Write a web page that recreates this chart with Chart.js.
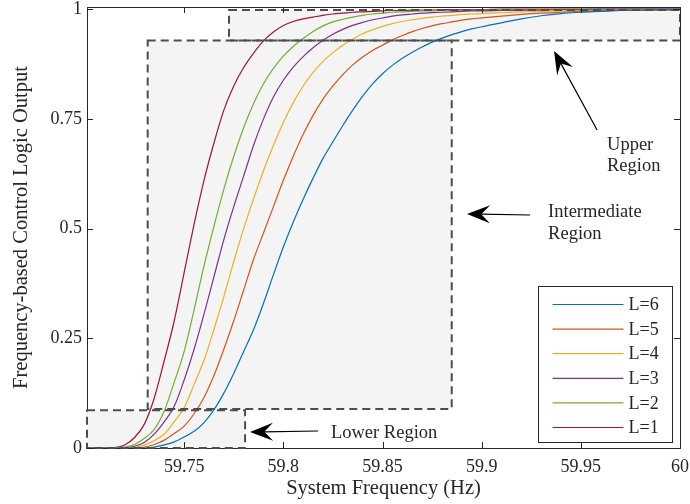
<!DOCTYPE html>
<html><head><meta charset="utf-8">
<script src="https://cdn.jsdelivr.net/npm/chart.js@4"></script>
<style>html,body{margin:0;padding:0;background:#fff;} canvas{display:block;}</style>
</head><body>
<canvas id="c" width="690" height="504"></canvas>
<script>
// ---------- data ----------
const freq = [59.700,59.705,59.710,59.715,59.720,59.725,59.730,59.735,59.740,59.745,
  59.750,59.755,59.760,59.765,59.770,59.775,59.780,59.785,59.790,59.795,
  59.800,59.805,59.810,59.815,59.820,59.825,59.830,59.835,59.840,59.845,
  59.850,59.855,59.860,59.865,59.870,59.875,59.880,59.885,59.890,59.895,
  59.900,59.910,59.920,59.930,59.940,59.950,59.960,59.970,59.980,59.990,60.000];

const L1 = [0,0,0,0.001,0.007,0.024,0.055,0.115,0.20,0.29,
  0.40,0.51,0.61,0.695,0.77,0.825,0.867,0.90,0.928,0.948,
  0.963,0.972,0.978,0.982,0.986,0.989,0.991,0.993,0.994,0.995,
  0.996,0.997,0.997,0.998,0.998,0.998,0.999,0.999,0.999,0.999,
  0.999,1,1,1,1,1,1,1,1,1,1];
const L2 = [0,0,0,0,0.002,0.008,0.022,0.043,0.085,0.15,
  0.22,0.315,0.415,0.505,0.59,0.665,0.73,0.785,0.83,0.865,
  0.893,0.915,0.933,0.949,0.962,0.971,0.977,0.982,0.986,0.989,
  0.991,0.993,0.994,0.995,0.996,0.996,0.997,0.997,0.998,0.998,
  0.998,0.999,0.999,0.999,1,1,1,1,1,1,1];
const L3 = [0,0,0,0,0,0.004,0.013,0.032,0.06,0.095,
  0.155,0.225,0.305,0.39,0.475,0.55,0.62,0.69,0.75,0.80,
  0.838,0.868,0.892,0.912,0.929,0.943,0.954,0.963,0.97,0.976,
  0.98,0.984,0.987,0.989,0.991,0.992,0.993,0.994,0.995,0.996,
  0.996,0.997,0.998,0.998,0.999,0.999,1,1,1,1,1];
const L4 = [0,0,0,0,0,0.001,0.007,0.017,0.032,0.06,
  0.092,0.145,0.20,0.27,0.345,0.425,0.50,0.568,0.632,0.69,
  0.742,0.787,0.825,0.856,0.881,0.901,0.918,0.932,0.944,0.953,
  0.961,0.967,0.972,0.976,0.979,0.982,0.984,0.986,0.988,0.989,
  0.99,0.992,0.994,0.995,0.996,0.997,0.998,0.998,0.999,0.999,0.999];
const L5 = [0,0,0,0,0,0,0.002,0.008,0.018,0.033,
  0.05,0.078,0.115,0.165,0.225,0.29,0.36,0.43,0.49,0.55,
  0.61,0.665,0.715,0.758,0.795,0.825,0.851,0.873,0.891,0.906,
  0.918,0.93,0.94,0.949,0.956,0.962,0.967,0.971,0.975,0.978,
  0.98,0.984,0.988,0.991,0.993,0.995,0.996,0.997,0.998,0.998,0.999];
const L6 = [0,0,0,0,0,0,0,0.002,0.007,0.014,
  0.025,0.038,0.058,0.087,0.125,0.17,0.22,0.27,0.33,0.395,
  0.458,0.515,0.567,0.615,0.66,0.698,0.735,0.77,0.802,0.83,
  0.853,0.872,0.888,0.902,0.914,0.925,0.934,0.942,0.949,0.955,
  0.96,0.969,0.978,0.985,0.99,0.993,0.995,0.997,0.998,0.999,0.999];

const seriesLabels = ['L=6','L=5','L=4','L=3','L=2','L=1'];
const seriesValues = [L6, L5, L4, L3, L2, L1];
const seriesColors = ['#0072BD','#D95319','#EDB120','#7E2F8E','#77AC30','#A2142F'];

const xTickValues = [59.75,59.8,59.85,59.9,59.95,60];
const xTickLabels = ['59.75','59.8','59.85','59.9','59.95','60'];
const yTickValues = [0,0.25,0.5,0.75,1];
const yTickLabels = ['0','0.25','0.5','0.75','1'];

// region rectangles in data coordinates [x0, x1, y0, y1]
const regionBoxes = [
  [59.701, 59.7807, 0, 0.0859],
  [59.7316, 59.8849, 0.0891, 0.9289],
  [59.7726, 60.0, 0.9289, 0.998]
];
// annotation arrows [fromX, fromY, toX, toY] and labels [x, y, text]
const arrowLines = [
  [59.9582, 0.7247, 59.9365, 0.9047],
  [59.9244, 0.531, 59.8926, 0.5333],
  [59.8175, 0.0387, 59.7832, 0.0365]
];
const noteLabels = [
  [59.9632, 0.6905, 'Upper'],
  [59.9632, 0.6427, 'Region'],
  [59.9335, 0.5378, 'Intermediate'],
  [59.9335, 0.4877, 'Region'],
  [59.8240, 0.0342, 'Lower Region']
];

// ---------- style ----------
const FONT = '"Liberation Serif", "Times New Roman", serif';
const INK = '#262626';

const overlayPlugin = {
  id: 'overlay',
  beforeDatasetsDraw(chart) {
    const {ctx, scales: {x, y}} = chart;
    ctx.save();
    ctx.fillStyle = '#f4f4f4';
    regionBoxes.forEach(b => {
      const x0 = x.getPixelForValue(b[0]), x1 = x.getPixelForValue(b[1]);
      const y0 = y.getPixelForValue(b[2]), y1 = y.getPixelForValue(b[3]);
      ctx.fillRect(x0, y1, x1 - x0, y0 - y1);
    });
    ctx.restore();
  },
  afterDatasetsDraw(chart) {
    const {ctx, scales: {x, y}} = chart;
    ctx.save();
    ctx.strokeStyle = '#4d4d4d';
    ctx.lineWidth = 2;
    ctx.setLineDash([8, 5]);
    regionBoxes.forEach(b => {
      const x0 = x.getPixelForValue(b[0]), x1 = x.getPixelForValue(b[1]);
      const y0 = y.getPixelForValue(b[2]), y1 = y.getPixelForValue(b[3]);
      ctx.strokeRect(x0, y1, x1 - x0, y0 - y1);
    });
    ctx.restore();
  },
  afterDraw(chart) {
    const {ctx, chartArea: ca, scales: {x, y}} = chart;
    ctx.save();
    // axes box
    ctx.strokeStyle = INK;
    ctx.lineWidth = 1;
    ctx.beginPath();
    ctx.moveTo(ca.left, ca.top + 0.5); ctx.lineTo(ca.right + 0.5, ca.top + 0.5);
    ctx.lineTo(ca.right + 0.5, ca.bottom);
    ctx.stroke();
    // inward ticks
    const tl = 6;
    ctx.beginPath();
    xTickValues.forEach(v => {
      const px = Math.round(x.getPixelForValue(v)) + 0.5;
      ctx.moveTo(px, ca.bottom); ctx.lineTo(px, ca.bottom - tl);
      ctx.moveTo(px, ca.top); ctx.lineTo(px, ca.top + tl);
    });
    yTickValues.forEach(v => {
      const py = Math.round(y.getPixelForValue(v)) + 0.5;
      ctx.moveTo(ca.left, py); ctx.lineTo(ca.left + tl, py);
      ctx.moveTo(ca.right, py); ctx.lineTo(ca.right - tl, py);
    });
    ctx.stroke();

    // arrows
    ctx.strokeStyle = '#000';
    ctx.fillStyle = '#000';
    arrowLines.forEach(a => {
      const fx = x.getPixelForValue(a[0]), fy = y.getPixelForValue(a[1]);
      const tx = x.getPixelForValue(a[2]), ty = y.getPixelForValue(a[3]);
      const dx = tx - fx, dy = ty - fy, len = Math.hypot(dx, dy);
      const ux = dx / len, uy = dy / len, nx = -uy, ny = ux;
      const hl = 23, hw = 9;
      ctx.beginPath();
      ctx.moveTo(fx, fy);
      ctx.lineTo(tx - ux * hl * 0.6, ty - uy * hl * 0.6);
      ctx.lineWidth = 1.2;
      ctx.stroke();
      ctx.beginPath();
      ctx.moveTo(tx, ty);
      ctx.lineTo(tx - ux * hl + nx * hw, ty - uy * hl + ny * hw);
      ctx.lineTo(tx - ux * hl * 0.62, ty - uy * hl * 0.62);
      ctx.lineTo(tx - ux * hl - nx * hw, ty - uy * hl - ny * hw);
      ctx.closePath();
      ctx.fill();
    });
    // labels
    ctx.fillStyle = INK;
    ctx.font = '18.5px ' + FONT;
    ctx.textBaseline = 'middle';
    ctx.textAlign = 'left';
    noteLabels.forEach(t => {
      ctx.fillText(t[2], x.getPixelForValue(t[0]), y.getPixelForValue(t[1]));
    });

    // legend
    const bw = 134, bh = 156;
    const bx = Math.round(ca.right - 8 - bw) + 0.5, by = Math.round(ca.bottom - 6 - bh) + 0.5;
    ctx.fillStyle = '#fff';
    ctx.fillRect(bx, by, bw, bh);
    ctx.strokeStyle = INK;
    ctx.lineWidth = 1;
    ctx.strokeRect(bx, by, bw, bh);
    ctx.font = '18px ' + FONT;
    seriesLabels.forEach((lab, i) => {
      const ry = by + 18 + i * 24.6;
      ctx.strokeStyle = seriesColors[i];
      ctx.lineWidth = 1.2;
      ctx.beginPath();
      ctx.moveTo(bx + 14, ry); ctx.lineTo(bx + 85, ry);
      ctx.stroke();
      ctx.fillStyle = INK;
      ctx.fillText(lab, bx + 90, ry + 1);
    });
    ctx.restore();
  }
};

const datasets = seriesLabels.map((lab, i) => ({
  label: lab,
  data: freq.map((f, j) => ({x: f, y: seriesValues[i][j]})),
  borderColor: seriesColors[i],
  borderWidth: 1.2,
  pointRadius: 0,
  fill: false,
  cubicInterpolationMode: 'monotone'
}));

new Chart(document.getElementById('c'), {
  type: 'line',
  data: {datasets},
  plugins: [overlayPlugin],
  options: {
    responsive: false,
    animation: false,
    devicePixelRatio: 1,
    layout: {padding: {top: 7, right: 10, left: 0, bottom: 0}},
    plugins: {legend: {display: false}, tooltip: {enabled: false}},
    scales: {
      x: {
        type: 'linear', min: 59.701, max: 60,
        afterBuildTicks: s => { s.ticks = xTickValues.map(v => ({value: v})); },
        ticks: {callback: (v, i) => xTickLabels[i], font: {family: FONT, size: 18}, color: INK,
                padding: 8, maxRotation: 0, autoSkip: false},
        grid: {display: false, drawTicks: false},
        border: {display: true, color: INK, width: 1},
        title: {display: true, text: 'System Frequency (Hz)', color: INK,
                font: {family: FONT, size: 20.5}, padding: {top: 0, bottom: 3}},
        afterFit: s => { s.height = 56; s.paddingLeft = 0; s.paddingRight = 0; }
      },
      y: {
        type: 'linear', min: 0, max: 1.005,
        afterBuildTicks: s => { s.ticks = yTickValues.map(v => ({value: v})); },
        ticks: {callback: (v, i) => yTickLabels[i], font: {family: FONT, size: 18}, color: INK,
                padding: 5, autoSkip: false},
        grid: {display: false, drawTicks: false},
        border: {display: true, color: INK, width: 1},
        title: {display: true, text: 'Frequency-based Control Logic Output', color: INK,
                font: {family: FONT, size: 20.5}, padding: {top: 9, bottom: 0}},
        afterFit: s => { s.width = 87; s.paddingTop = 0; s.paddingBottom = 0; }
      }
    }
  }
});
</script>
</body></html>
